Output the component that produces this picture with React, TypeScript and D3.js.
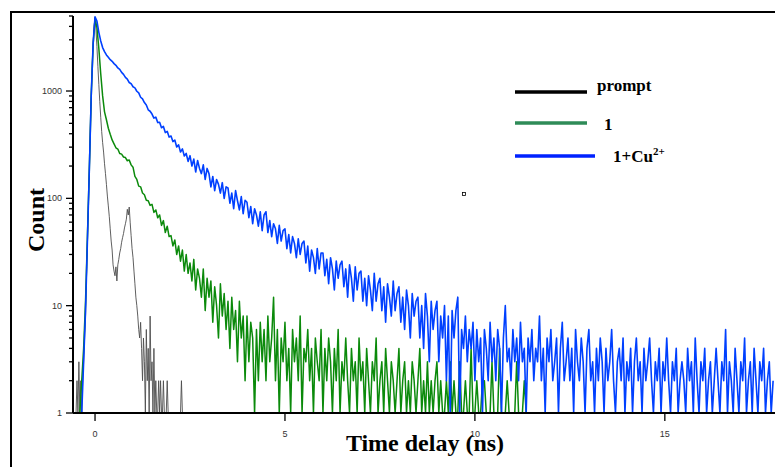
import React, { useEffect, useRef } from 'react';
import * as d3 from 'd3';

// TCSPC channels: time of the first channel and channel widths (ns)
const T0 = -0.5;
const DECAY_STEP = 0.05;
const PROMPT_STEP = 0.025;

// instrument response (prompt), counts per channel
const promptCounts = [
  1, 2, 1, 3, 1, 2, 1, 2, 3, 5,
  8, 18, 38, 85, 180, 420, 900, 1700, 2800, 4000,
  4900, 3700, 2600, 1700, 1150, 800, 570, 420, 330, 270,
  210, 170, 135, 105, 85, 68, 52, 40, 33, 24,
  21, 19, 23, 17, 24, 27, 31, 34, 39, 43,
  47, 53, 58, 64, 79, 70, 83, 60, 45, 34,
  28, 21, 16, 12, 10, 8, 6, 5, 7, 4,
  2, 5, 3, 1, 6, 2, 4, 1, 8, 2,
  3, 1, 4, 1, 2, 1, 1, 2, 1, 2,
  1, 1, 2, 1, 1, 1, 2, 1, 1, 1,
  1, 1, 1, 1, 1, 1, 1, 1, 1, 1,
  1, 2, 1,
];

// compound 1
const counts1 = [
  1, 1, 1, 2, 4, 11, 45, 190, 900, 2700,
  4750, 3900, 2500, 1450, 900, 640, 540, 450, 395, 350,
  322, 296, 288, 262, 258, 243, 240, 224, 228, 205,
  195, 160, 150, 130, 128, 112, 108, 96, 95, 86,
  88, 74, 78, 66, 70, 56, 62, 48, 55, 44,
  45, 36, 41, 30, 36, 26, 33, 21, 30, 20,
  25, 17, 27, 14, 22, 18, 12, 22, 9, 18,
  12, 17, 7, 15, 10, 5, 16, 8, 13, 6,
  11, 4, 12, 6, 9, 3, 11, 5, 8, 2,
  8, 3, 7, 5, 1, 6, 2, 7, 3, 6,
  2, 8, 3, 5, 12, 2, 6, 1, 5, 3,
  7, 2, 4, 1, 6, 3, 5, 2, 8, 1,
  4, 3, 6, 2, 4, 1, 5, 3, 2, 6,
  1, 4, 2, 5, 3, 1, 4, 2, 6, 1,
  3, 2, 5, 2, 1, 4, 2, 3, 1, 5,
  2, 3, 1, 4, 2, 1, 3, 2, 5, 1,
  2, 3, 1, 4, 2, 1, 3, 2, 1, 2,
  4, 1, 2, 3, 1, 2, 1, 3, 2, 1,
  2, 4, 1, 2, 1, 3, 1, 2, 1, 2,
  3, 1, 2, 1, 1, 2, 1, 3, 1, 2,
  1, 1, 3, 1, 1, 2, 1, 1, 4, 1,
  1, 2, 1, 1, 2, 2, 1, 1, 1, 3,
  1, 1, 1, 4, 1, 1, 1, 2, 1, 1,
  1, 1, 3, 1, 1, 1, 2, 1, 1,
];

// compound 1 + Cu2+
const countsCu = [
  1, 1, 1, 1, 3, 9, 41, 185, 910, 2780,
  4920, 4480, 3520, 2930, 2540, 2330, 2170, 2060, 1960, 1890,
  1800, 1735, 1640, 1590, 1490, 1430, 1340, 1290, 1200, 1170,
  1095, 1070, 995, 960, 875, 845, 780, 740, 668, 648,
  610, 560, 571, 508, 512, 455, 468, 410, 421, 372,
  381, 338, 349, 301, 315, 270, 289, 248, 262, 221,
  250, 200, 232, 176, 225, 190, 170, 205, 150, 190,
  170, 128, 160, 118, 150, 135, 112, 140, 100, 128,
  125, 90, 112, 80, 118, 95, 78, 104, 72, 96,
  92, 66, 84, 58, 80, 70, 55, 75, 50, 70,
  75, 48, 62, 44, 58, 52, 38, 56, 40, 50,
  52, 34, 46, 31, 44, 38, 28, 42, 30, 38,
  40, 25, 36, 21, 33, 28, 20, 34, 22, 31,
  31, 19, 27, 16, 28, 22, 14, 26, 18, 24,
  26, 15, 22, 12, 24, 18, 11, 23, 14, 20,
  21, 11, 18, 10, 19, 14, 9, 20, 11, 16,
  18, 9, 15, 7, 16, 12, 8, 17, 9, 13,
  15, 7, 12, 6, 14, 10, 5, 13, 8, 11,
  12, 5, 10, 4, 13, 8, 3, 11, 6, 9,
  11, 3, 8, 5, 10, 2, 8, 1, 9, 5,
  9, 12, 1, 6, 4, 8, 3, 6, 4, 7,
  2, 6, 3, 5, 1, 6, 4, 2, 7, 3,
  5, 2, 6, 4, 1, 5, 10, 3, 4, 2,
  6, 3, 5, 2, 7, 3, 4, 1, 5, 3,
  6, 2, 4, 3, 8, 2, 4, 1, 5, 3,
  6, 2, 3, 5, 1, 4, 7, 2, 3, 5,
  2, 4, 1, 6, 3, 2, 5, 3, 1, 4,
  6, 2, 3, 1, 4, 2, 5, 3, 1, 4,
  2, 3, 6, 2, 1, 3, 4, 2, 5, 1,
  3, 2, 4, 1, 3, 5, 2, 3, 1, 4,
  2, 3, 5, 2, 1, 3, 2, 4, 1, 3,
  2, 5, 2, 1, 3, 2, 4, 1, 2, 3,
  2, 1, 4, 2, 3, 1, 5, 2, 1, 3,
  2, 4, 1, 2, 3, 1, 2, 4, 2, 1,
  3, 2, 6, 1, 3, 2, 1, 4, 2, 1,
  3, 2, 5, 1, 2, 3, 1, 4, 2, 1,
  3, 2, 4, 1, 2, 3, 1, 2,
];

const xTicks = [0, 5, 10, 15];
const yMajorTicks = [1, 10, 100, 1000];
const legendNames = ['prompt', '1', '1+Cu'];

const DecayChart = () => {
  const ref = useRef(null);

  useEffect(() => {
    const svg = d3.select(ref.current);
    svg.selectAll('*').remove();

    const x = d3.scaleLinear().domain([-0.58, 17.9]).range([73, 775]);
    const y = d3.scaleLog().domain([1, 5000]).range([413, 16]);

    // outer frame
    svg.append('rect')
      .attr('x', 11).attr('y', 12).attr('width', 790).attr('height', 480)
      .attr('fill', 'none').attr('stroke', '#000').attr('stroke-width', 2);

    svg.append('defs').append('clipPath').attr('id', 'plotclip')
      .append('rect').attr('x', 73).attr('y', 14).attr('width', 702).attr('height', 400);

    const series = [
      { data: promptCounts, step: PROMPT_STEP, color: '#4d4d4d', w: 0.9 },
      { data: counts1, step: DECAY_STEP, color: '#0b8a0b', w: 1.5 },
      { data: countsCu, step: DECAY_STEP, color: '#0040ff', w: 1.6 },
    ];

    const plot = svg.append('g').attr('clip-path', 'url(#plotclip)');
    series.forEach(s => {
      const line = d3.line()
        .x((d, i) => x(T0 + i * s.step))
        .y(d => y(Math.max(1, d)));
      plot.append('path')
        .attr('d', line(s.data))
        .attr('fill', 'none')
        .attr('stroke', s.color)
        .attr('stroke-width', s.w)
        .attr('stroke-linejoin', 'round');
    });

    // y axis
    const yAxis = svg.append('g');
    yAxis.append('line')
      .attr('x1', 73).attr('x2', 73).attr('y1', y(5000)).attr('y2', y(1))
      .attr('stroke', '#000').attr('stroke-width', 2);
    y.ticks().forEach(t => {
      const major = yMajorTicks.includes(t);
      yAxis.append('line')
        .attr('x1', major ? 66 : 69).attr('x2', 73)
        .attr('y1', y(t)).attr('y2', y(t))
        .attr('stroke', '#000').attr('stroke-width', 1.3);
    });
    yAxis.selectAll('text').data(yMajorTicks).enter().append('text')
      .attr('x', 62).attr('y', d => y(d) + 3)
      .attr('text-anchor', 'end')
      .attr('font-family', 'Liberation Sans, Arial, sans-serif')
      .attr('font-size', 9).attr('fill', '#333')
      .text(d => String(d));

    // x axis
    const xAxis = svg.append('g');
    xAxis.append('line')
      .attr('x1', 73).attr('x2', 775).attr('y1', 413).attr('y2', 413)
      .attr('stroke', '#000').attr('stroke-width', 2);
    xTicks.forEach(t => {
      xAxis.append('line')
        .attr('x1', x(t)).attr('x2', x(t)).attr('y1', 413).attr('y2', 421)
        .attr('stroke', '#000').attr('stroke-width', 1.3);
      xAxis.append('text')
        .attr('x', x(t)).attr('y', 437)
        .attr('text-anchor', 'middle')
        .attr('font-family', 'Liberation Sans, Arial, sans-serif')
        .attr('font-size', 9).attr('fill', '#333')
        .text(String(t));
    });

    // axis titles
    svg.append('text')
      .attr('x', 425).attr('y', 451)
      .attr('text-anchor', 'middle')
      .attr('font-family', 'Liberation Serif, Times New Roman, serif')
      .attr('font-weight', 'bold').attr('font-size', 24)
      .text('Time delay (ns)');
    svg.append('text')
      .attr('transform', 'translate(44,220) rotate(-90)')
      .attr('text-anchor', 'middle')
      .attr('font-family', 'Liberation Serif, Times New Roman, serif')
      .attr('font-weight', 'bold').attr('font-size', 24)
      .text('Count');

    // legend
    const legY = [92, 123, 156];
    const legX2 = [587, 587, 595];
    const legColors = ['#000', '#2e8b57', '#0022ff'];
    const legTextX = [597, 604, 613];
    const legTextY = [91, 130, 162];
    const legend = svg.append('g');
    legendNames.forEach((name, i) => {
      legend.append('line')
        .attr('x1', 515).attr('x2', legX2[i]).attr('y1', legY[i]).attr('y2', legY[i])
        .attr('stroke', legColors[i]).attr('stroke-width', 3.5);
      const txt = legend.append('text')
        .attr('x', legTextX[i]).attr('y', legTextY[i])
        .attr('font-family', 'Liberation Serif, Times New Roman, serif')
        .attr('font-weight', 'bold').attr('font-size', 17)
        .text(name);
      if (i === 2) {
        txt.append('tspan').attr('dy', -7).attr('font-size', 11).text('2+');
      }
    });

    // small marker left in the figure
    svg.append('rect')
      .attr('x', 462.5).attr('y', 192.5).attr('width', 3).attr('height', 3)
      .attr('fill', '#fff').attr('stroke', '#000').attr('stroke-width', 0.8);
  }, []);

  return (
    <svg ref={ref} width={775} height={467}
      style={{ position: 'absolute', left: 0, top: 0, background: '#fff' }} />
  );
};

export default function App() {
  return <DecayChart />;
}
